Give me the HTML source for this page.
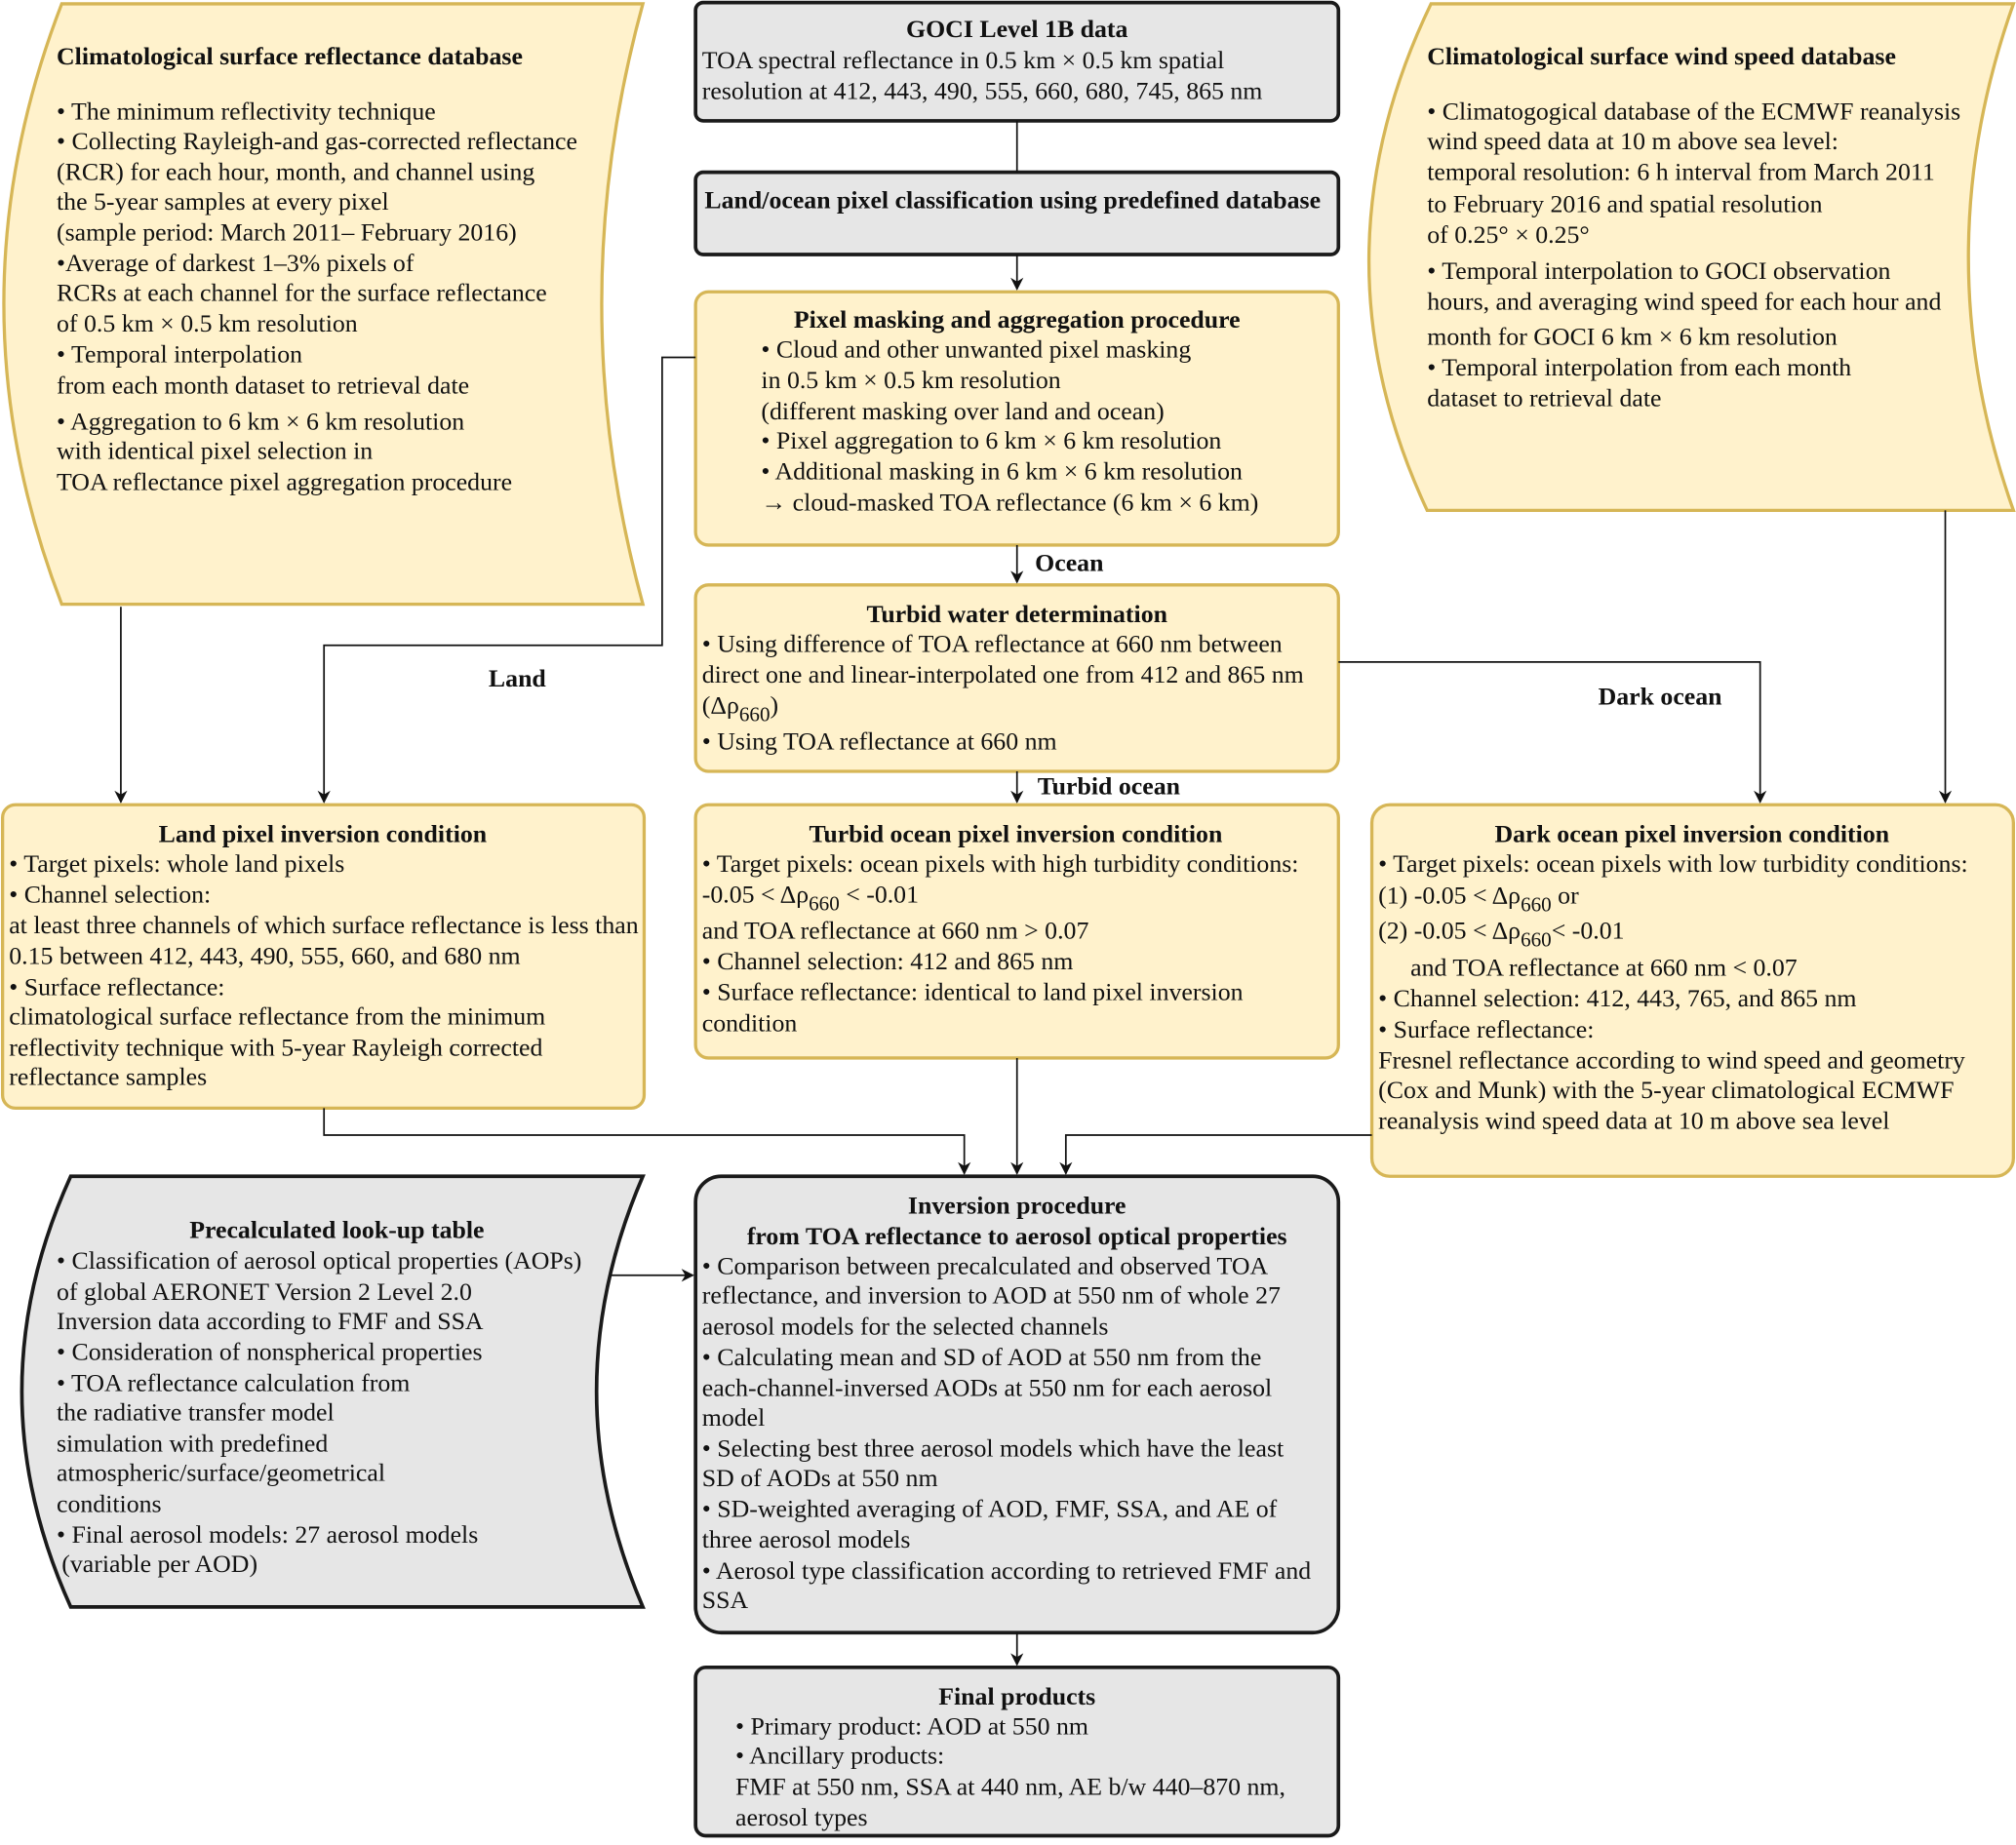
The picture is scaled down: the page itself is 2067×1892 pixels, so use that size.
<!DOCTYPE html>
<html><head><meta charset="utf-8"><style>
html,body{margin:0;padding:0;background:#fff;}
svg{display:block;}
text{font-family:"Liberation Serif","Times New Roman",serif;font-size:19.6px;fill:#111;}
.b{font-weight:bold;}
.c{text-anchor:middle;}
.y{fill:#fff2cc;stroke:#d6b656;stroke-width:2.5;}
.g{fill:#e6e6e6;stroke:#1a1a1a;stroke-width:2.8;}
.l{fill:none;stroke:#111;stroke-width:1.3;}
</style></head><body>
<svg width="2067" height="1892" viewBox="0 0 1568 1435.2" preserveAspectRatio="none" xmlns="http://www.w3.org/2000/svg">
<defs><marker id="a" markerWidth="10" markerHeight="10" refX="9" refY="5" orient="auto" markerUnits="userSpaceOnUse"><path d="M0,0 L10,5 L0,10 L3,5 Z" fill="#111"/></marker></defs>

<path class="y" d="M48,3 L500,3 Q436,236 500,470 L48,470 Q-42,236 48,3 Z"/>
<path class="y" d="M1113,3 L1566,3 Q1496,200 1566,397 L1110,397 Q1018,200 1113,3 Z"/>
<path class="g" d="M55,915 L500,915 Q428,1082 500,1250 L55,1250 Q-21,1082 55,915 Z"/>

<rect class="g" x="541" y="2" width="500" height="92" rx="6"/>
<rect class="g" x="541" y="134" width="500" height="64" rx="6"/>
<rect class="y" x="541" y="227" width="500" height="197" rx="10"/>
<rect class="y" x="541" y="455" width="500" height="145" rx="10"/>
<rect class="y" x="541" y="626" width="500" height="197" rx="10"/>
<rect class="y" x="2" y="626" width="499" height="236" rx="10"/>
<rect class="y" x="1067" y="626" width="499" height="289" rx="14"/>
<rect class="g" x="541" y="915" width="500" height="355" rx="20"/>
<rect class="g" x="541" y="1297" width="500" height="131" rx="8"/>

<path class="l" d="M791,94 L791,134"/>
<path class="l" d="M791,198 L791,225" marker-end="url(#a)"/>
<path class="l" d="M791,424 L791,453" marker-end="url(#a)"/>
<path class="l" d="M791,600 L791,624" marker-end="url(#a)"/>
<path class="l" d="M94,472 L94,624" marker-end="url(#a)"/>
<path class="l" d="M541,278 L515,278 L515,502 L252,502 L252,624" marker-end="url(#a)"/>
<path class="l" d="M1041,515 L1369,515 L1369,624" marker-end="url(#a)"/>
<path class="l" d="M1513,397 L1513,624" marker-end="url(#a)"/>
<path class="l" d="M252,862 L252,883 L750,883 L750,913" marker-end="url(#a)"/>
<path class="l" d="M791,823 L791,913" marker-end="url(#a)"/>
<path class="l" d="M1067,883 L829,883 L829,913" marker-end="url(#a)"/>
<path class="l" d="M475,992 L539,992" marker-end="url(#a)"/>
<path class="l" d="M791,1270 L791,1295" marker-end="url(#a)"/>

<text class="b" x="805" y="444">Ocean</text>
<text class="b" x="807" y="618">Turbid ocean</text>
<text class="b" x="380" y="534">Land</text>
<text class="b" x="1243" y="548">Dark ocean</text>

<text class="b" x="44" y="50">Climatological surface reflectance database</text>
<text x="44" y="93">• The minimum reflectivity technique</text>
<text x="44" y="116">• Collecting Rayleigh-and gas-corrected reflectance</text>
<text x="44" y="140">(RCR) for each hour, month, and channel using</text>
<text x="44" y="163">the 5-year samples at every pixel</text>
<text x="44" y="187">(sample period: March 2011– February 2016)</text>
<text x="44" y="211">•Average of darkest 1–3% pixels of</text>
<text x="44" y="234">RCRs at each channel for the surface reflectance</text>
<text x="44" y="258">of 0.5 km × 0.5 km resolution</text>
<text x="44" y="282">• Temporal interpolation</text>
<text x="44" y="306">from each month dataset to retrieval date</text>
<text x="44" y="334">• Aggregation to 6 km × 6 km resolution</text>
<text x="44" y="357">with identical  pixel selection in</text>
<text x="44" y="381">TOA reflectance pixel aggregation procedure</text>

<text class="b c" x="791" y="29">GOCI Level 1B data</text>
<text x="546" y="53">TOA spectral reflectance in 0.5 km × 0.5 km spatial</text>
<text x="546" y="77">resolution at 412, 443, 490, 555, 660, 680, 745, 865 nm</text>
<text class="b" x="548" y="162">Land/ocean pixel classification using predefined database</text>

<text class="b c" x="791" y="255">Pixel masking and aggregation procedure</text>
<text x="592" y="278">• Cloud and other unwanted pixel masking</text>
<text x="592" y="302">in 0.5 km × 0.5 km resolution</text>
<text x="592" y="326">(different masking over land and ocean)</text>
<text x="592" y="349">• Pixel aggregation to 6 km × 6 km resolution</text>
<text x="592" y="373">• Additional masking in 6 km × 6 km resolution</text>
<text x="592" y="397">→ cloud-masked TOA reflectance (6 km × 6 km)</text>

<text class="b c" x="791" y="484">Turbid water determination</text>
<text x="546" y="507">• Using difference of TOA reflectance at 660 nm between</text>
<text x="546" y="531">direct one and linear-interpolated one from 412 and 865 nm</text>
<text x="546" y="555">(Δρ<tspan dy="6" font-size="16">660</tspan><tspan dy="-6">)</tspan></text>
<text x="546" y="583">• Using TOA reflectance at 660 nm</text>

<text class="b c" x="790" y="655">Turbid ocean pixel inversion condition</text>
<text x="546" y="678">• Target pixels: ocean pixels with high turbidity conditions:</text>
<text x="546" y="702">-0.05 &lt; Δρ<tspan dy="6" font-size="16">660</tspan><tspan dy="-6"> &lt; -0.01</tspan></text>
<text x="546" y="730">and TOA reflectance at 660 nm &gt; 0.07</text>
<text x="546" y="754">• Channel selection: 412 and 865 nm</text>
<text x="546" y="778">• Surface reflectance: identical to land pixel inversion</text>
<text x="546" y="802">condition</text>

<text class="b c" x="251" y="655">Land pixel inversion condition</text>
<text x="7" y="678">• Target pixels: whole land pixels</text>
<text x="7" y="702">• Channel selection:</text>
<text x="7" y="726">at least three channels of which surface reflectance is less than</text>
<text x="7" y="750">0.15 between 412, 443, 490, 555, 660, and 680 nm</text>
<text x="7" y="774">• Surface reflectance:</text>
<text x="7" y="797">climatological surface reflectance from the minimum</text>
<text x="7" y="821">reflectivity technique with 5-year Rayleigh corrected</text>
<text x="7" y="844">reflectance samples</text>

<text class="b c" x="1316" y="655">Dark ocean pixel inversion condition</text>
<text x="1072" y="678">• Target pixels: ocean pixels with low turbidity conditions:</text>
<text x="1072" y="703">(1) -0.05 &lt; Δρ<tspan dy="6" font-size="16">660</tspan><tspan dy="-6">  or</tspan></text>
<text x="1072" y="730">(2) -0.05 &lt; Δρ<tspan dy="6" font-size="16">660</tspan><tspan dy="-6">&lt; -0.01</tspan></text>
<text x="1097" y="759">and TOA reflectance at 660 nm &lt; 0.07</text>
<text x="1072" y="783">• Channel selection: 412, 443, 765, and 865 nm</text>
<text x="1072" y="807">• Surface reflectance:</text>
<text x="1072" y="831">Fresnel reflectance according to wind speed and geometry</text>
<text x="1072" y="854">(Cox and Munk) with the 5-year climatological ECMWF</text>
<text x="1072" y="878">reanalysis wind speed data at 10 m above sea level</text>

<text class="b" x="1110" y="50">Climatological surface wind speed database</text>
<text x="1110" y="93">• Climatogogical database of the ECMWF reanalysis</text>
<text x="1110" y="116">wind speed data at 10 m above sea level:</text>
<text x="1110" y="140">temporal resolution: 6 h interval from March 2011</text>
<text x="1110" y="165">to February 2016 and spatial resolution</text>
<text x="1110" y="189">of 0.25° × 0.25°</text>
<text x="1110" y="217">• Temporal interpolation to GOCI observation</text>
<text x="1110" y="241">hours, and averaging wind speed for each hour and</text>
<text x="1110" y="268">month for GOCI 6 km × 6 km resolution</text>
<text x="1110" y="292">• Temporal interpolation from each month</text>
<text x="1110" y="316">dataset to retrieval date</text>

<text class="b c" x="262" y="963">Precalculated look-up table</text>
<text x="44" y="987">• Classification of  aerosol optical properties (AOPs)</text>
<text x="44" y="1011">of global AERONET Version 2 Level 2.0</text>
<text x="44" y="1034">Inversion data according to FMF and SSA</text>
<text x="44" y="1058">• Consideration of nonspherical properties</text>
<text x="44" y="1082">• TOA reflectance calculation from</text>
<text x="44" y="1105">the  radiative transfer model</text>
<text x="44" y="1129">simulation with predefined</text>
<text x="44" y="1152">atmospheric/surface/geometrical</text>
<text x="44" y="1176">conditions</text>
<text x="44" y="1200">• Final aerosol models: 27 aerosol models</text>
<text x="48" y="1223">(variable per AOD)</text>

<text class="b c" x="791" y="944">Inversion procedure</text>
<text class="b c" x="791" y="968">from TOA reflectance to aerosol optical properties</text>
<text x="546" y="991">• Comparison between precalculated and observed TOA</text>
<text x="546" y="1014">reflectance, and inversion to AOD at 550 nm of whole 27</text>
<text x="546" y="1038">aerosol models for the selected channels</text>
<text x="546" y="1062">• Calculating mean and SD of AOD at 550 nm from the</text>
<text x="546" y="1086">each-channel-inversed AODs at 550 nm for each aerosol</text>
<text x="546" y="1109">model</text>
<text x="546" y="1133">• Selecting best three aerosol models which have the least</text>
<text x="546" y="1156">SD  of AODs at 550 nm</text>
<text x="546" y="1180">• SD-weighted averaging of AOD, FMF, SSA, and AE  of</text>
<text x="546" y="1204">three aerosol models</text>
<text x="546" y="1228">• Aerosol type classification according to retrieved FMF and</text>
<text x="546" y="1251">SSA</text>

<text class="b c" x="791" y="1326">Final products</text>
<text x="572" y="1349">• Primary product: AOD at 550 nm</text>
<text x="572" y="1372">• Ancillary products:</text>
<text x="572" y="1396">FMF at 550 nm, SSA at 440 nm, AE b/w 440–870 nm,</text>
<text x="572" y="1420">aerosol types</text>
</svg>
</body></html>
